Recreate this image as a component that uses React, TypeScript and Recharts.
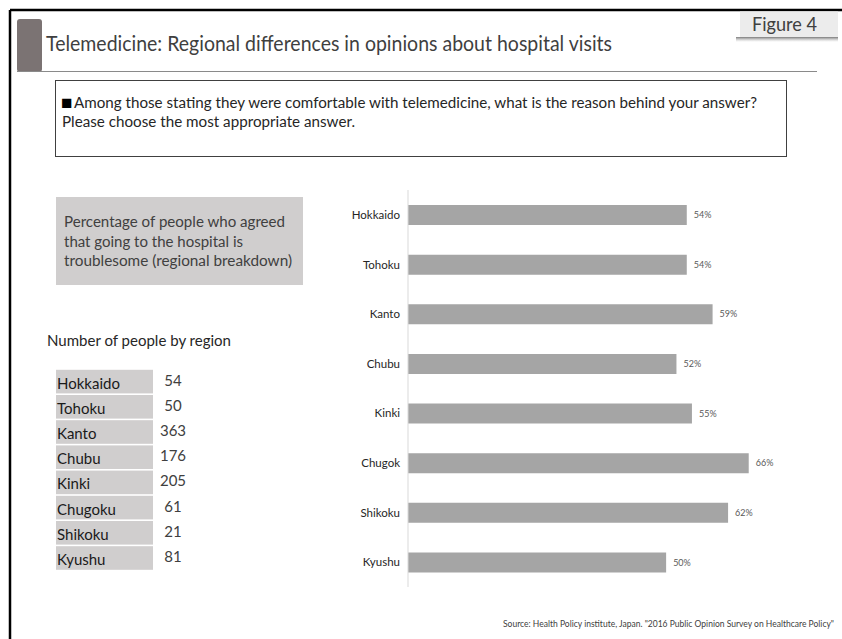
import React from 'react';
import { BarChart, Bar, XAxis, YAxis, LabelList } from 'recharts';

const regions = ['Hokkaido', 'Tohoku', 'Kanto', 'Chubu', 'Kinki', 'Chugok', 'Shikoku', 'Kyushu'];
const percentAgreed = [54, 54, 59, 52, 55, 66, 62, 50];
const tableRegions = ['Hokkaido', 'Tohoku', 'Kanto', 'Chubu', 'Kinki', 'Chugoku', 'Shikoku', 'Kyushu'];
const peopleCounts = [54, 50, 363, 176, 205, 61, 21, 81];

const title = 'Telemedicine: Regional differences in opinions about hospital visits';
const figureLabel = 'Figure 4';
const questionMark = '\u25A0';
const question1 = 'Among those stating they were comfortable with telemedicine, what is the reason behind your answer?';
const question2 = 'Please choose the most appropriate answer.';
const boxLines = ['Percentage of people who agreed', 'that going to the hospital is', 'troublesome (regional breakdown)'];
const tableTitle = 'Number of people by region';
const source = 'Source: Health Policy institute, Japan. "2016 Public Opinion Survey on Healthcare Policy"';

const chartData = regions.map((r, i) => ({ region: r, value: percentAgreed[i] }));

const FONT = 'Lato, "Open Sans", sans-serif';

export default function App() {
  const rowTop = 369;
  const rowH = 25.2;
  return (
    <div style={{ position: 'absolute', left: 0, top: 0, width: 842, height: 639, background: '#fff', overflow: 'hidden', fontFamily: FONT }}>
      <svg width={842} height={639} style={{ position: 'absolute', left: 0, top: 0 }} fontFamily={FONT}>
        <defs>
          <linearGradient id="shadow" x1="0" y1="0" x2="0" y2="1">
            <stop offset="0" stopColor="#6e6e6e" stopOpacity={0.9} />
            <stop offset="1" stopColor="#bdbdbd" stopOpacity={0} />
          </linearGradient>
        </defs>
        {/* frame */}
        <line x1={10} y1={10} x2={842} y2={10} stroke="#000" strokeWidth={2.5} />
        <line x1={10} y1={10} x2={10} y2={639} stroke="#000" strokeWidth={2.5} />
        {/* figure label */}
        <rect x={740} y={11.5} width={98} height={26} fill="#ececec" />
        <rect x={736} y={37} width={102} height={5} fill="url(#shadow)" />
        <text x={752} y={31} fontSize={19} fill="#404040" textLength={65} lengthAdjust="spacingAndGlyphs">{figureLabel}</text>
        {/* title */}
        <rect x={17} y={19} width={25} height={53} rx={3} fill="#7b7373" />
        <text x={46} y={51} fontSize={21} fill="#3f3f3f" textLength={566} lengthAdjust="spacingAndGlyphs">{title}</text>
        <line x1={17} y1={71.5} x2={817} y2={71.5} stroke="#8a8a8a" strokeWidth={1.2} />
        {/* question box */}
        <rect x={55.5} y={80.5} width={731} height={76} fill="none" stroke="#404040" strokeWidth={1} />
        <text x={61} y={109} fontSize={19} fill="#000">{questionMark}</text>
        <text x={74} y={108} fontSize={14.5} fill="#262626" textLength={683} lengthAdjust="spacingAndGlyphs">{question1}</text>
        <text x={62} y={127} fontSize={14.5} fill="#262626" textLength={293} lengthAdjust="spacingAndGlyphs">{question2}</text>
        {/* gray description box */}
        <rect x={56} y={197} width={247} height={88} fill="#d0cece" />
        <text x={64} y={227} fontSize={15.5} fill="#404040" textLength={221} lengthAdjust="spacingAndGlyphs">{boxLines[0]}</text>
        <text x={64} y={247} fontSize={15.5} fill="#404040" textLength={179} lengthAdjust="spacingAndGlyphs">{boxLines[1]}</text>
        <text x={64} y={266} fontSize={15.5} fill="#404040" textLength={228} lengthAdjust="spacingAndGlyphs">{boxLines[2]}</text>
        {/* table */}
        <text x={47} y={346} fontSize={14.5} fill="#262626" textLength={184} lengthAdjust="spacingAndGlyphs">{tableTitle}</text>
        {tableRegions.map((r, i) => (
          <g key={r}>
            <rect x={56} y={rowTop + i * rowH + 0.8} width={97} height={rowH - 1.6} fill="#d0cece" />
            <text x={57} y={rowTop + i * rowH + rowH / 2 + 7} fontSize={15} fill="#1a1a1a">{r}</text>
            <text x={173} y={rowTop + i * rowH + rowH / 2 + 4} fontSize={15} fill="#404040" textAnchor="middle">{peopleCounts[i]}</text>
          </g>
        ))}
        {/* source */}
        <text x={503} y={627} fontSize={8.5} fill="#404040" textLength={331} lengthAdjust="spacingAndGlyphs">{source}</text>
      </svg>
      <div style={{ position: 'absolute', left: 0, top: 0 }}>
        <BarChart
          width={842}
          height={639}
          data={chartData}
          layout="vertical"
          margin={{ top: 190, right: 21, bottom: 52, left: 0 }}
          style={{ fontFamily: FONT }}
        >
          <XAxis type="number" domain={[0, 80]} hide />
          <YAxis
            type="category"
            dataKey="region"
            width={408}
            axisLine={{ stroke: '#d9d9d9' }}
            tickLine={false}
            tick={{ fontSize: 11.5, fill: '#262626' }}
            interval={0}
          />
          <Bar dataKey="value" fill="#a5a5a5" barSize={20} isAnimationActive={false}>
            <LabelList dataKey="value" position="right" offset={7} fontSize={9} fill="#595959" formatter={(v: any) => `${v}%`} />
          </Bar>
        </BarChart>
      </div>
    </div>
  );
}
